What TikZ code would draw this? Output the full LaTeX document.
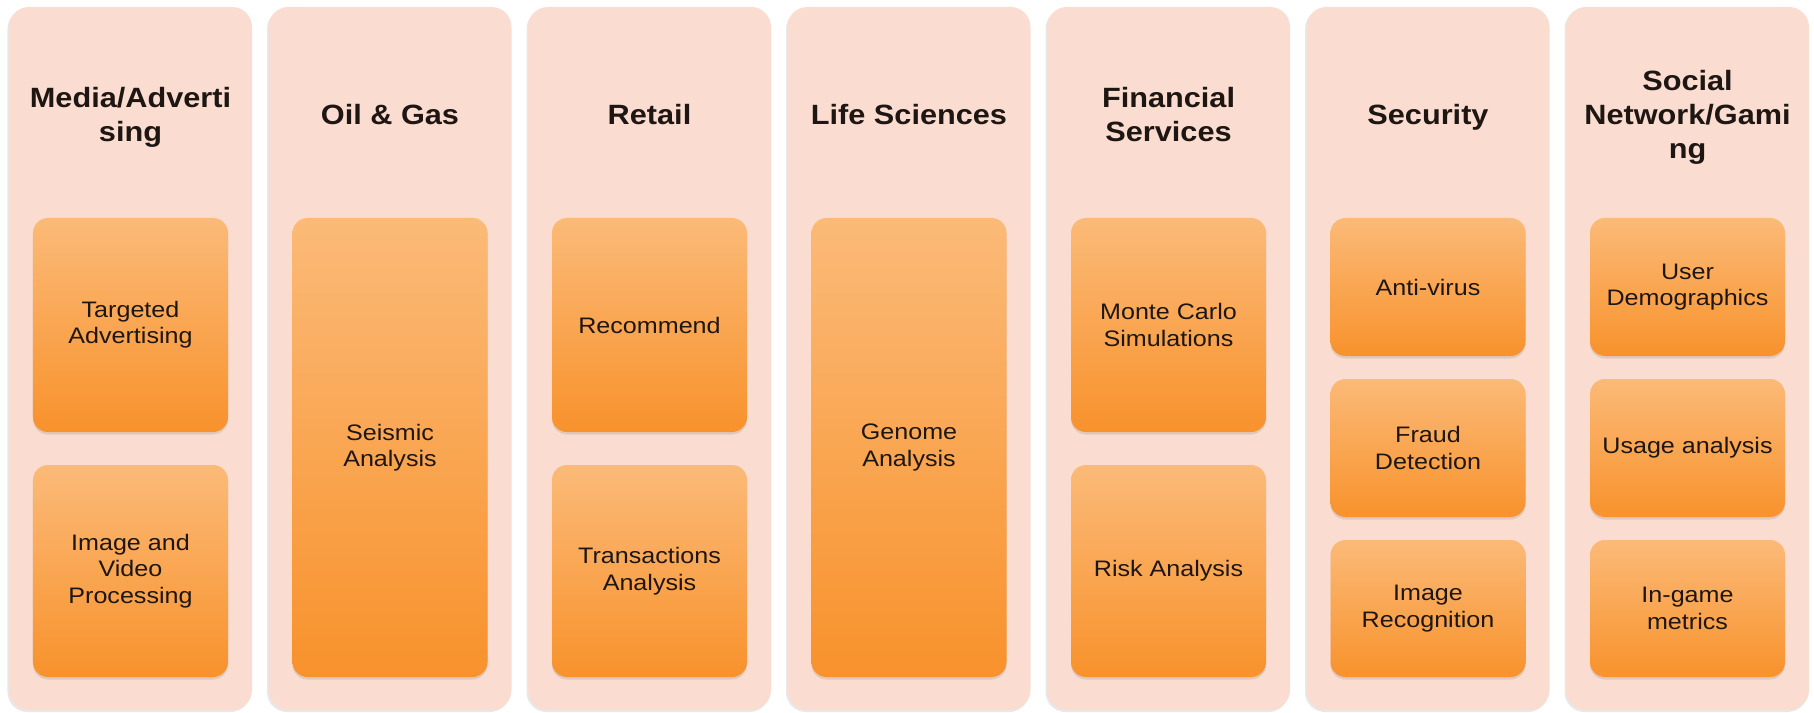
\documentclass[tikz,border=0pt]{standalone}
\usepackage{fontspec}
\setmainfont{Liberation Sans}
\newfontfamily\ttlfont[FakeStretch=1.1]{Liberation Sans}
\newfontfamily\boxfont[FakeStretch=1.12]{Liberation Sans}
\usetikzlibrary{shadows}
\definecolor{colbg}{RGB}{250,221,208}
\definecolor{boxtop}{RGB}{251,186,120}
\definecolor{boxbot}{RGB}{248,146,44}
\definecolor{txt}{RGB}{30,22,18}
\begin{document}
\begin{tikzpicture}[x=1bp,y=-1bp,
  colbox/.style={rounded corners=20bp, fill=colbg, minimum width=243bp, minimum height=703bp, inner sep=0pt, draw=none,
     drop shadow={opacity=0.18, shadow xshift=-1.5bp, shadow yshift=-2bp}},
  ttl/.style={font=\ttlfont\bfseries\fontsize{28}{34.5}\selectfont, align=center, text=txt, inner sep=0pt},
  item/.style={rounded corners=15bp, top color=boxtop, bottom color=boxbot, minimum width=195bp, inner sep=0pt,
     align=center, font=\boxfont\fontsize{22.5}{26.5}\selectfont, text=txt, draw=none,
     drop shadow={opacity=0.22, shadow xshift=0bp, shadow yshift=-2.5bp}}]
\fill[white] (0,0) rectangle (1814,713);
\useasboundingbox (0,0) rectangle (1814,713);
% columns
\node[colbox] (c1) at (130.5,358.5) {};
\node[colbox] (c2) at (390,358.5) {};
\node[colbox] (c3) at (649.5,358.5) {};
\node[colbox] (c4) at (909,358.5) {};
\node[colbox] (c5) at (1168.5,358.5) {};
\node[colbox] (c6) at (1428,358.5) {};
\node[colbox] (c7) at (1687.5,358.5) {};
% titles
\node[ttl] (t1) at (130.5,117.5) {\strut Media/Adverti\\\strut sing};
\node[ttl] (t2) at (390,117.5) {\strut Oil \& Gas};
\node[ttl] (t3) at (649.5,117.5) {\strut Retail};
\node[ttl] (t4) at (909,117.5) {\strut Life Sciences};
\node[ttl] (t5) at (1168.5,117.5) {\strut Financial\\\strut Services};
\node[ttl] (t6) at (1428,117.5) {\strut Security};
\node[ttl] (t7) at (1687.5,117.5) {\strut Social\\Network/Gami\\\strut ng};
% two-box columns
\node[item, minimum height=214bp] (m1) at (130.5,325) {Targeted\\Advertising};
\node[item, minimum height=212bp] (m2) at (130.5,571) {Image and\\Video\\Processing};
\node[item, minimum height=459bp] (o1) at (390,447.5) {Seismic\\Analysis};
\node[item, minimum height=214bp] (r1) at (649.5,325) {Recommend};
\node[item, minimum height=212bp] (r2) at (649.5,571) {Transactions\\Analysis};
\node[item, minimum height=459bp] (l1) at (909,447.5) {Genome\\Analysis};
\node[item, minimum height=214bp] (f1) at (1168.5,325) {Monte Carlo\\Simulations};
\node[item, minimum height=212bp] (f2) at (1168.5,571) {Risk Analysis};
% three-box columns
\node[item, minimum height=138bp] (s1) at (1428,287) {Anti-virus};
\node[item, minimum height=138bp] (s2) at (1428,448) {Fraud\\Detection};
\node[item, minimum height=137bp] (s3) at (1428,608.5) {Image\\Recognition};
\node[item, minimum height=138bp] (g1) at (1687.5,287) {User\\Demographics};
\node[item, minimum height=138bp] (g2) at (1687.5,448) {Usage analysis};
\node[item, minimum height=137bp] (g3) at (1687.5,608.5) {In-game\\metrics};
\end{tikzpicture}
\end{document}
